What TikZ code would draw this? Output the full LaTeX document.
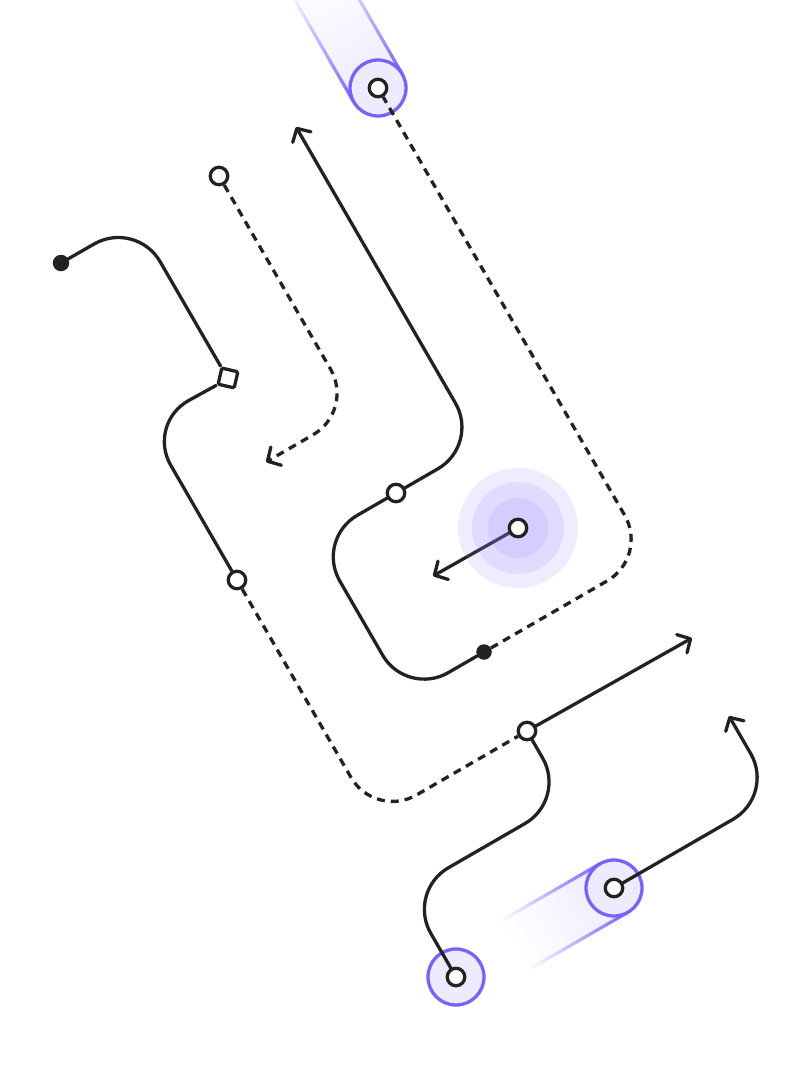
\documentclass[tikz,border=0pt]{standalone}
\usetikzlibrary{arrows.meta}
\definecolor{ink}{HTML}{222222}
\definecolor{ringc}{HTML}{7B61F8}
\definecolor{lav}{HTML}{EEEBFF}
\definecolor{glowc}{RGB}{140,120,255}
\pgfdeclarelayer{bg}
\pgfdeclarelayer{glow}
\pgfdeclarelayer{fg}
\pgfsetlayers{bg,main,glow,fg}
\begin{document}
\begin{tikzpicture}[x=1pt,y=-1pt,
  wire/.style={draw=ink, line width=3.3pt, rounded corners=48pt, line cap=round, line join=round},
  dashwire/.style={wire, dash pattern=on 8pt off 6pt, line cap=butt},
  tip/.style={-{Straight Barb[length=10pt,width=21pt,round]}},
  opendot/.style={circle, draw=ink, fill=white, line width=3.3pt, minimum size=17.5pt, inner sep=0pt},
  fulldot/.style={circle, fill=ink, minimum size=16.5pt, inner sep=0pt},
  sqnode/.style={rectangle, draw=ink, fill=white, line width=3.3pt, minimum size=16.5pt, inner sep=0pt, rounded corners=1.5pt, rotate=-13},
  ringnode/.style={circle, draw=ringc, fill=lav, line width=3.3pt, minimum size=56pt, inner sep=0pt},
  glowdisc/.style={fill=glowc, opacity=0.14}]
\useasboundingbox (0,0) rectangle (802,1089);

% trails and rings
\begin{pgfonlayer}{bg}
  \begin{scope}[transform canvas={shift={(378,88)}, rotate=120}]
    \shade[left color=lav, right color=white] (0,-27) rectangle (130,27);
    \shade[left color=ringc, right color=white] (0,-29.6) rectangle (130,-26.4);
    \shade[left color=ringc, right color=white] (0,26.4) rectangle (130,29.6);
  \end{scope}
  \begin{scope}[transform canvas={shift={(614,888)}, rotate=210}]
    \shade[left color=lav, right color=white] (0,-27) rectangle (115,27);
    \shade[left color=ringc, right color=white] (0,-29.6) rectangle (115,-26.4);
    \shade[left color=ringc, right color=white] (0,26.4) rectangle (115,29.6);
  \end{scope}
  \node[ringnode] (r1) at (378,88) {};
  \node[ringnode] (r2) at (614,888) {};
  \node[ringnode] (r3) at (456,977) {};
\end{pgfonlayer}

% markers
\begin{pgfonlayer}{fg}
  \node[opendot] (m1) at (378,88) {};
  \node[opendot] (m2) at (219,176) {};
  \node[sqnode] (sq) at (228,378) {};
  \node[fulldot] (d1) at (61,263) {};
  \node[opendot] (m3) at (396,493) {};
  \node[opendot] (m4) at (237,580) {};
  \node[opendot] (m5) at (518,528) {};
  \node[fulldot, minimum size=15.5pt] (d2) at (484,652) {};
  \node[opendot] (m6) at (527,731) {};
  \node[opendot] (m7) at (614,888) {};
  \node[opendot] (m8) at (456,977) {};
\end{pgfonlayer}

% corners and arrow ends
\coordinate (cA1) at (136,220);
\coordinate (cA2) at (146.7,423.6);
\coordinate (cA3) at (375,819);
\coordinate (aA) at (692,638);
\coordinate (cA5) at (566.6,799.5);
\coordinate (cA6) at (406.8,891.8);
\coordinate (cB) at (354.6,410.8);
\coordinate (aB) at (266,462);
\coordinate (cC1) at (479.5,444.8);
\coordinate (aC) at (296,127);
\coordinate (cC2) at (315.7,539.3);
\coordinate (cC3) at (406.6,696.7);
\coordinate (cC4) at (648.7,556.9);
\coordinate (aD) at (433,576);
\coordinate (cE) at (774.7,795.2);
\coordinate (aE) at (729,716);

% connectors
\draw[wire] (d1) -- (cA1) -- (sq.north west);
\draw[wire] (sq.south west) -- (cA2) -- (m4);
\draw[dashwire] (m4) -- (cA3) -- (m6);
\draw[wire, tip] (m6) -- (aA);
\draw[wire] (m6) -- (cA5) -- (cA6) -- (m8);
\draw[dashwire, tip] (m2) -- (cB) -- (aB);
\draw[wire, tip] (m3) -- (cC1) -- (aC);
\draw[wire] (m3) -- (cC2) -- (cC3) -- (d2);
\draw[dashwire] (d2) -- (cC4) -- (m1);
\draw[wire, tip] (m5) -- (aD);
\draw[wire, tip] (m7) -- (cE) -- (aE);

% glow
\begin{pgfonlayer}{glow}
  \fill[glowdisc] (m5.center) circle[radius=60];
  \fill[glowdisc] (m5.center) circle[radius=46];
  \fill[glowdisc] (m5.center) circle[radius=30];
\end{pgfonlayer}
\end{tikzpicture}
\end{document}
